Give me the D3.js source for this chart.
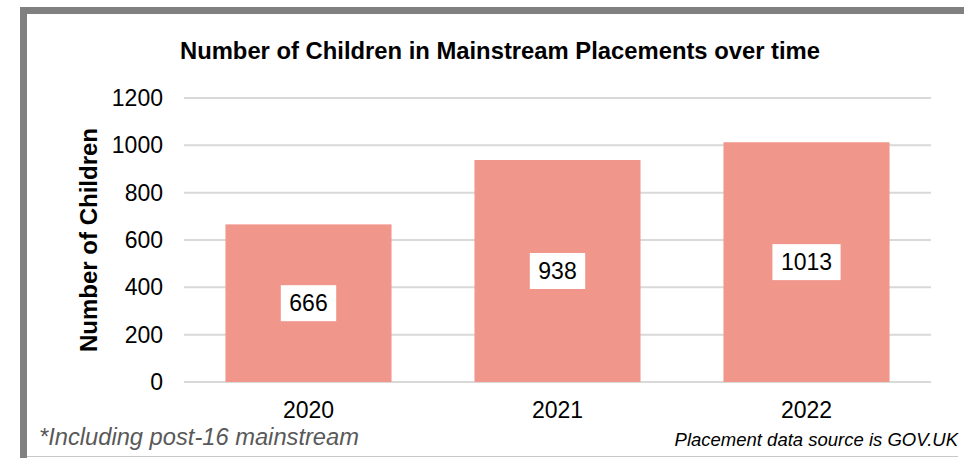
<!DOCTYPE html>
<html>
<head>
<meta charset="utf-8">
<script src="https://cdn.jsdelivr.net/npm/d3@7"></script>
<style>
  body { margin: 0; background: #fff; }
  svg { display: block; font-family: "Liberation Sans", Arial, sans-serif; }
</style>
</head>
<body>
<script>
var years = ['2020', '2021', '2022'];
var children = [666, 938, 1013];
var yTicks = [0, 200, 400, 600, 800, 1000, 1200];

var width = 964,
    height = 458;

var margin = { left: 184, right: 33, top: 98, bottom: 76 };

var svg = d3.select('body').append('svg')
    .attr('width', width)
    .attr('height', height);

// frame
svg.append('rect')
    .attr('x', 20).attr('y', 7)
    .attr('width', width - 20).attr('height', 7)
    .attr('fill', '#808080');
svg.append('rect')
    .attr('x', 20).attr('y', 7)
    .attr('width', 7).attr('height', height - 7)
    .attr('fill', '#808080');
svg.append('line')
    .attr('x1', 27).attr('x2', 958)
    .attr('y1', 456.5).attr('y2', 456.5)
    .attr('stroke', '#c8c8c8')
    .attr('stroke-width', 1);

var x = d3.scaleBand()
    .domain(years)
    .range([margin.left, width - margin.right])
    .paddingInner(0.333)
    .paddingOuter(0.1665);

var y = d3.scaleLinear()
    .domain([0, 1200])
    .range([height - margin.bottom, margin.top]);

// gridlines
svg.append('g')
    .selectAll('line')
    .data(yTicks)
    .enter().append('line')
    .attr('x1', margin.left)
    .attr('x2', width - margin.right)
    .attr('y1', function(d) { return y(d); })
    .attr('y2', function(d) { return y(d); })
    .attr('stroke', '#d9d9d9')
    .attr('stroke-width', 2);

// y tick labels
var yAxis = svg.append('g')
    .attr('transform', 'translate(' + (margin.left - 21) + ',0)')
    .call(d3.axisLeft(y).tickValues(yTicks).tickFormat(d3.format('d')).tickSize(0).tickPadding(0));
yAxis.select('.domain').remove();
yAxis.selectAll('text')
    .attr('font-family', '"Liberation Sans", Arial, sans-serif')
    .attr('font-size', 23)
    .attr('fill', '#000');

// x tick labels
var xAxis = svg.append('g')
    .attr('transform', 'translate(0,' + (height - margin.bottom) + ')')
    .call(d3.axisBottom(x).tickSize(0).tickPadding(20));
xAxis.select('.domain').remove();
xAxis.selectAll('text')
    .attr('font-family', '"Liberation Sans", Arial, sans-serif')
    .attr('font-size', 23)
    .attr('fill', '#000');

var data = years.map(function(yr, i) { return { year: yr, count: children[i] }; });

// bars
svg.append('g')
    .selectAll('rect')
    .data(data)
    .enter().append('rect')
    .attr('x', function(d) { return x(d.year); })
    .attr('y', function(d) { return y(d.count); })
    .attr('width', x.bandwidth())
    .attr('height', function(d) { return y(0) - y(d.count); })
    .attr('fill', '#f1968a');

// value labels on white boxes
var lab = svg.append('g')
    .selectAll('g')
    .data(data)
    .enter().append('g')
    .attr('transform', function(d) {
        var cx = x(d.year) + x.bandwidth() / 2;
        var cy = (y(d.count) + y(0)) / 2;
        return 'translate(' + cx + ',' + cy + ')';
    });

lab.append('text')
    .attr('text-anchor', 'middle')
    .attr('dy', '0.36em')
    .attr('font-size', 23)
    .attr('fill', '#000')
    .text(function(d) { return d.count; });

lab.each(function() {
    var g = d3.select(this);
    var bb = g.select('text').node().getBBox();
    g.insert('rect', 'text')
        .attr('x', bb.x - 8.5)
        .attr('y', -18)
        .attr('width', bb.width + 17)
        .attr('height', 36)
        .attr('fill', '#fff');
});

// title
svg.append('text')
    .attr('x', 500)
    .attr('y', 59)
    .attr('text-anchor', 'middle')
    .attr('font-size', 23.8)
    .attr('font-weight', 'bold')
    .text('Number of Children in Mainstream Placements over time');

// y axis title
svg.append('text')
    .attr('transform', 'translate(97,240) rotate(-90)')
    .attr('text-anchor', 'middle')
    .attr('font-size', 24)
    .attr('font-weight', 'bold')
    .text('Number of Children');

// footnotes
svg.append('text')
    .attr('x', 39)
    .attr('y', 445)
    .attr('font-size', 23.7)
    .attr('font-style', 'italic')
    .attr('fill', '#595959')
    .text('*Including post-16 mainstream');

svg.append('text')
    .attr('x', 958)
    .attr('y', 446)
    .attr('text-anchor', 'end')
    .attr('font-size', 18.5)
    .attr('font-style', 'italic')
    .attr('fill', '#000')
    .text('Placement data source is GOV.UK');
</script>
</body>
</html>
